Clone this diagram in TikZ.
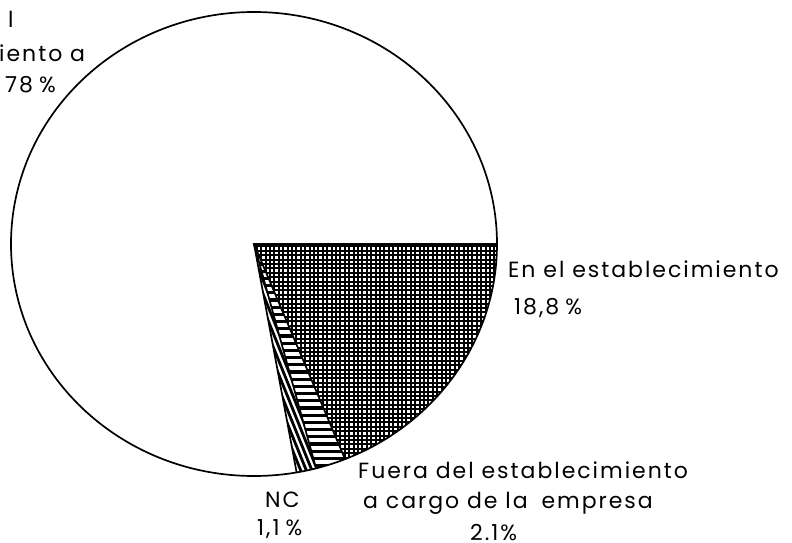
\documentclass[tikz,border=0pt]{standalone}
\usepackage{fontspec}
\usetikzlibrary{calc}
\setmainfont{Poppins}[LetterSpace=9]
\newcommand{\lblfont}{\fontsize{22}{26}\selectfont}
\newcommand{\pc}{\hspace{6pt}\%}
\begin{document}
\begin{tikzpicture}[x=1pt,y=1pt,
  lbl/.style={inner sep=0pt, anchor=base west, font=\lblfont},
  rim/.style={line width=1.7pt, black},
  hatch/.style={line width=2.1pt}]
\useasboundingbox (0,0) rectangle (792,542);
\def\rx{243}\def\ry{232}
\def\aA{-68}\def\aB{-75.2}\def\aC{-79.9}
\coordinate (v) at (254,298);
\coordinate (pO) at (497,298);
% checked wedge: En el establecimiento
\begin{scope}
\clip (v) -- (pO) arc[start angle=0,end angle=\aA,x radius=\rx,y radius=\ry] -- cycle;
\foreach \i in {0,...,62} {\draw[hatch] (248+4.4*\i,60) -- ++(0,250);}
\foreach \i in {0,...,58} {\draw[hatch] (248,58+4.4*\i) -- ++(270,0);}
\end{scope}
% horizontal stripes: Fuera del establecimiento
\begin{scope}
\clip (v) -- ++({\rx*cos(\aA)},{\ry*sin(\aA)}) arc[start angle=\aA,end angle=\aB,x radius=\rx,y radius=\ry] -- cycle;
\foreach \i in {0,...,36} {\draw[line width=3.2pt] (240,62+7.2*\i) -- ++(120,0);}
\end{scope}
% slanted stripes: NC
\begin{scope}
\clip (v) -- ++({\rx*cos(\aB)},{\ry*sin(\aB)}) arc[start angle=\aB,end angle=\aC,x radius=\rx,y radius=\ry] -- cycle;
\foreach \i in {-25,...,25} {\draw[line width=2.8pt] ($(v)+(5.2*\i*0.927,5.2*\i*0.375)+(-0.375*60,0.927*60)$) -- ++(0.375*320,-0.927*320);}
\end{scope}
% outlines
\draw[rim] (v) ellipse[x radius=\rx,y radius=\ry];
\draw[rim] (pO) -- (v) -- ++({\rx*cos(\aA)},{\ry*sin(\aA)});
\draw[rim] (v) -- ++({\rx*cos(\aB)},{\ry*sin(\aB)});
\draw[rim] (v) -- ++({\rx*cos(\aC)},{\ry*sin(\aC)});
% labels
\node[lbl] (t1) at (8,514) {l};
\node[lbl] (t2) at (-1,480) {iento a};
\node[lbl] (t3) at (5,449) {78\pc};
\node[lbl] (e1) at (508,265) {En el establecimiento};
\node[lbl] (e2) at (514,228) {18,8\pc};
\node[lbl] (f1) at (358,64) {Fuera del establecimiento};
\node[lbl] (f2) at (363,34) {a cargo de la\hspace{6pt} empresa};
\node[lbl] (f3) at (470,2) {2.1\%};
\node[lbl] (n1) at (265,35) {NC};
\node[lbl] (n2) at (257,7) {1,1\pc};
\end{tikzpicture}
\end{document}
